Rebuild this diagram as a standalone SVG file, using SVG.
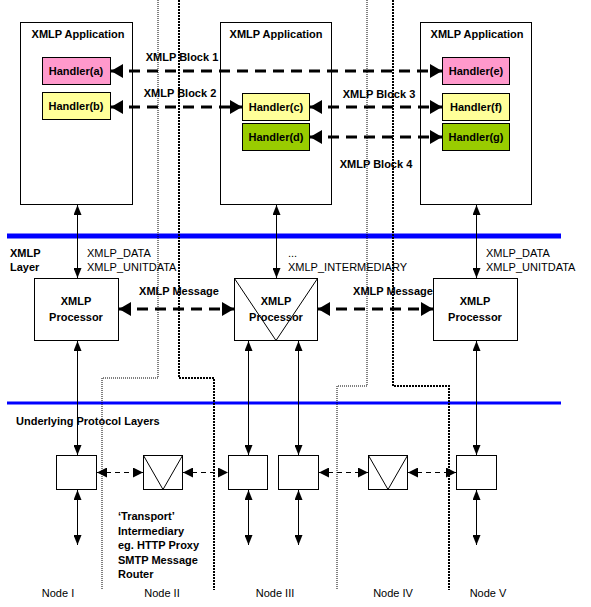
<svg xmlns="http://www.w3.org/2000/svg" width="591" height="607" viewBox="0 0 591 607">
<style>
text{font-family:"Liberation Sans",Arial,sans-serif;font-size:11px;fill:#000}
.b{font-weight:bold}
.m{text-anchor:middle}
.box{fill:#fff;stroke:#000;stroke-width:1}
.pink{fill:#FF99CC;stroke:#000;stroke-width:1}
.yel{fill:#FFFF99;stroke:#000;stroke-width:1}
.grn{fill:#99CC00;stroke:#000;stroke-width:1}
.thin{fill:none;stroke:#000;stroke-width:1}
.dl{fill:none;stroke:#000;stroke-width:3;stroke-dasharray:11 7}
.ds{fill:none;stroke:#000;stroke-width:1;stroke-dasharray:5 4}
.dot1{fill:none;stroke:#000;stroke-width:1;stroke-dasharray:1 1}
.dot2{fill:none;stroke:#000;stroke-width:2;stroke-dasharray:2 1}
.blue{stroke:#0000FF}
</style>
<defs>
<marker id="bh" viewBox="0 0 12 14" refX="12" refY="7" markerWidth="12" markerHeight="14" markerUnits="userSpaceOnUse" orient="auto-start-reverse"><path d="M0,0 L12,7 L0,14 z" fill="#000"/></marker>
<marker id="sh" viewBox="0 0 10 8" refX="10" refY="4" markerWidth="10" markerHeight="8" markerUnits="userSpaceOnUse" orient="auto-start-reverse"><path d="M0,0 L10,4 L0,8 z" fill="#000"/></marker>
<marker id="mh" viewBox="0 0 10 10" refX="10" refY="5" markerWidth="10" markerHeight="10" markerUnits="userSpaceOnUse" orient="auto-start-reverse"><path d="M0,0 L10,5 L0,10 z" fill="#000"/></marker>
</defs>

<g id="layers">
<line class="blue" x1="7" y1="236" x2="561" y2="236" stroke-width="5"/>
<line class="blue" x1="7" y1="403" x2="561" y2="403" stroke-width="3"/>
<text class="b" x="10" y="257">XMLP</text>
<text class="b" x="10" y="271">Layer</text>
<text class="b" x="16" y="425">Underlying Protocol Layers</text>
</g>

<g id="boundaries">
<path class="dot1" d="M158,0 V378 H102 V590"/>
<path class="dot2" d="M179,0 V378 H214 V590"/>
<path class="dot1" d="M367,0 V386 H337 V590"/>
<path class="dot2" d="M393,0 V386 H449 V590"/>
</g>

<g id="app1">
<rect class="box" x="20.5" y="22.5" width="112" height="182"/>
<text class="b m" x="78" y="38">XMLP Application</text>
</g>
<g id="app2">
<rect class="box" x="220.5" y="22.5" width="111" height="182"/>
<text class="b m" x="276" y="38">XMLP Application</text>
</g>
<g id="app3">
<rect class="box" x="420.5" y="22.5" width="111" height="182"/>
<text class="b m" x="477" y="38">XMLP Application</text>
</g>

<g id="handler-a"><rect class="pink" x="42.5" y="57.5" width="68" height="27"/><text class="b m" x="76" y="75">Handler(a)</text></g>
<g id="handler-b"><rect class="yel" x="42.5" y="92.5" width="68" height="27"/><text class="b m" x="76" y="110">Handler(b)</text></g>
<g id="handler-c"><rect class="yel" x="242.5" y="93.5" width="67" height="27"/><text class="b m" x="276" y="111">Handler(c)</text></g>
<g id="handler-d"><rect class="grn" x="242.5" y="123.5" width="67" height="27"/><text class="b m" x="276" y="141">Handler(d)</text></g>
<g id="handler-e"><rect class="pink" x="442.5" y="57.5" width="67" height="27"/><text class="b m" x="476" y="75">Handler(e)</text></g>
<g id="handler-f"><rect class="yel" x="442.5" y="93.5" width="67" height="27"/><text class="b m" x="476" y="111">Handler(f)</text></g>
<g id="handler-g"><rect class="grn" x="442.5" y="123.5" width="67" height="27"/><text class="b m" x="476" y="141">Handler(g)</text></g>

<g id="proc1">
<rect class="box" x="34.5" y="278.5" width="84" height="62"/>
<text class="b m" x="76" y="305">XMLP</text>
<text class="b m" x="76" y="321">Processor</text>
</g>
<g id="proc2">
<rect class="box" x="234.5" y="278.5" width="83" height="62"/>
<path class="thin" d="M234.5,278.5 L276,340.5 L317.5,278.5"/>
<text class="b m" x="276" y="305">XMLP</text>
<text class="b m" x="276" y="321">Processor</text>
</g>
<g id="proc3">
<rect class="box" x="433.5" y="278.5" width="84" height="62"/>
<text class="b m" x="475" y="305">XMLP</text>
<text class="b m" x="475" y="321">Processor</text>
</g>

<g id="node1-box"><rect class="box" x="56.5" y="455.5" width="40" height="34"/></g>
<g id="node2-box"><rect class="box" x="143.5" y="455.5" width="39" height="34"/><path class="thin" d="M143.5,455.5 L163,489.5 L182.5,455.5"/></g>
<g id="node3a-box"><rect class="box" x="228.5" y="455.5" width="39" height="34"/></g>
<g id="node3b-box"><rect class="box" x="278.5" y="455.5" width="40" height="34"/></g>
<g id="node4-box"><rect class="box" x="368.5" y="455.5" width="39" height="34"/><path class="thin" d="M368.5,455.5 L388,489.5 L407.5,455.5"/></g>
<g id="node5-box"><rect class="box" x="456.5" y="455.5" width="40" height="34"/></g>

<g id="connectors">
<line class="dl" x1="111" y1="71" x2="442" y2="71" marker-start="url(#bh)" marker-end="url(#bh)"/>
<line class="dl" x1="111" y1="107" x2="242" y2="107" marker-start="url(#bh)" marker-end="url(#bh)"/>
<line class="dl" x1="310" y1="107" x2="442" y2="107" marker-start="url(#bh)" marker-end="url(#bh)"/>
<line class="dl" x1="310" y1="137" x2="442" y2="137" marker-start="url(#bh)" marker-end="url(#bh)"/>
<line class="dl" x1="119" y1="309" x2="234" y2="309" marker-start="url(#bh)" marker-end="url(#bh)"/>
<line class="dl" x1="318" y1="309" x2="433" y2="309" marker-start="url(#bh)" marker-end="url(#bh)"/>

<line class="thin" x1="77.5" y1="205" x2="77.5" y2="278" marker-start="url(#sh)" marker-end="url(#sh)"/>
<line class="thin" x1="276.5" y1="205" x2="276.5" y2="278" marker-start="url(#sh)" marker-end="url(#sh)"/>
<line class="thin" x1="476.5" y1="205" x2="476.5" y2="278" marker-start="url(#sh)" marker-end="url(#sh)"/>

<line class="thin" x1="77.5" y1="341" x2="77.5" y2="455" marker-start="url(#sh)" marker-end="url(#sh)"/>
<line class="thin" x1="248.5" y1="341" x2="248.5" y2="455" marker-start="url(#sh)" marker-end="url(#sh)"/>
<line class="thin" x1="298.5" y1="341" x2="298.5" y2="455" marker-start="url(#sh)" marker-end="url(#sh)"/>
<line class="thin" x1="476.5" y1="341" x2="476.5" y2="455" marker-start="url(#sh)" marker-end="url(#sh)"/>

<line class="thin" x1="77.5" y1="490" x2="77.5" y2="545" marker-start="url(#sh)" marker-end="url(#sh)"/>
<line class="thin" x1="248.5" y1="490" x2="248.5" y2="545" marker-start="url(#sh)" marker-end="url(#sh)"/>
<line class="thin" x1="298.5" y1="490" x2="298.5" y2="545" marker-start="url(#sh)" marker-end="url(#sh)"/>
<line class="thin" x1="476.5" y1="490" x2="476.5" y2="545" marker-start="url(#sh)" marker-end="url(#sh)"/>

<line class="ds" x1="97" y1="472.5" x2="143" y2="472.5" marker-start="url(#mh)" marker-end="url(#mh)"/>
<line class="ds" x1="183" y1="472.5" x2="228" y2="472.5" marker-start="url(#mh)" marker-end="url(#mh)"/>
<line class="ds" x1="319" y1="472.5" x2="368" y2="472.5" marker-start="url(#mh)" marker-end="url(#mh)"/>
<line class="ds" x1="408" y1="472.5" x2="456" y2="472.5" marker-start="url(#mh)" marker-end="url(#mh)"/>
</g>

<g id="labels">
<text class="b m" x="182" y="61">XMLP Block 1</text>
<text class="b m" x="180" y="97">XMLP Block 2</text>
<text class="b m" x="379" y="98">XMLP Block 3</text>
<text class="b m" x="376" y="168">XMLP Block 4</text>
<text class="b m" x="179" y="295">XMLP Message</text>
<text class="b m" x="393" y="295">XMLP Message</text>
<text x="87" y="257">XMLP_DATA</text>
<text x="87" y="271">XMLP_UNITDATA</text>
<text x="288" y="257">...</text>
<text x="288" y="271">XMLP_INTERMEDIARY</text>
<text x="486" y="257">XMLP_DATA</text>
<text x="486" y="271">XMLP_UNITDATA</text>
<text class="b" x="118" y="520">‘Transport’</text>
<text class="b" x="118" y="535">Intermediary</text>
<text class="b" x="118" y="549">eg. HTTP Proxy</text>
<text class="b" x="118" y="564">SMTP Message</text>
<text class="b" x="118" y="578">Router</text>
<text class="m" x="58" y="597">Node I</text>
<text class="m" x="162" y="597">Node II</text>
<text class="m" x="275" y="597">Node III</text>
<text class="m" x="393" y="597">Node IV</text>
<text class="m" x="488" y="597">Node V</text>
</g>
</svg>
